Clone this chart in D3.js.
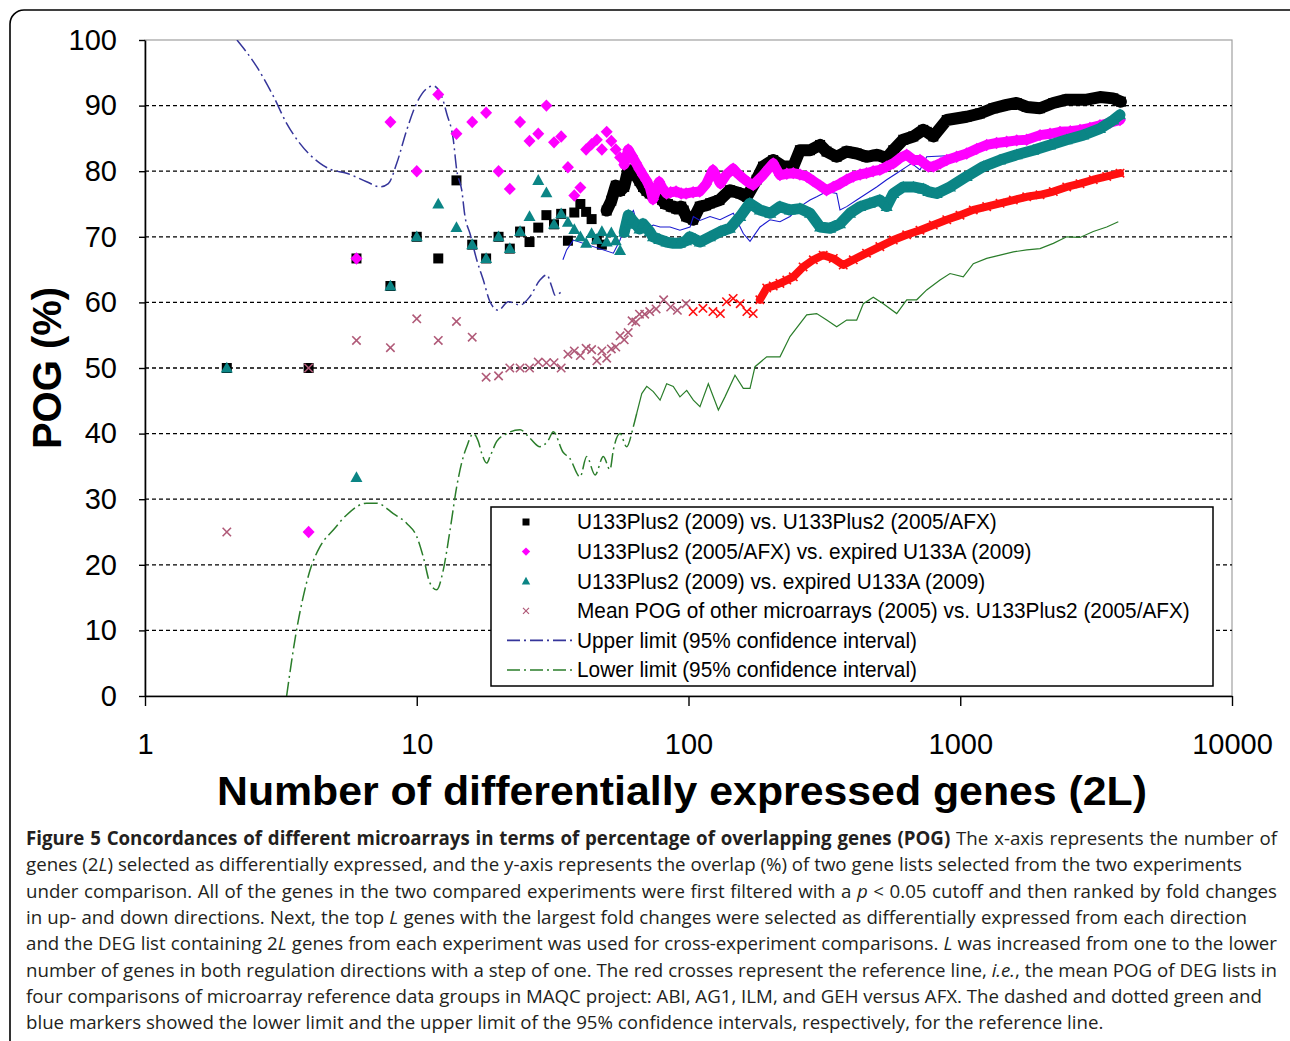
<!DOCTYPE html>
<html><head><meta charset="utf-8">
<script src="https://cdn.jsdelivr.net/npm/d3@7"></script>
<style>
body{margin:0;background:#fff;width:1290px;height:1041px;overflow:hidden;position:relative;}
svg{position:absolute;left:0;top:0;}
.cl{position:absolute;left:26px;white-space:nowrap;font-family:"Open Sans",sans-serif;color:#231f20;transform-origin:0 0;line-height:26px;}
</style></head><body>
<svg id="chart" width="1290" height="1041"></svg>
<script>
// ---------------- DATA (2L, POG %) ----------------
const yTicks = [0,10,20,30,40,50,60,70,80,90,100];
const xTicks = [1,10,100,1000,10000];
const legendLabels = [
  "U133Plus2 (2009) vs. U133Plus2 (2005/AFX)",
  "U133Plus2 (2005/AFX) vs. expired U133A (2009)",
  "U133Plus2 (2009) vs. expired U133A (2009)",
  "Mean POG of other microarrays (2005) vs. U133Plus2 (2005/AFX)",
  "Upper limit (95% confidence interval)",
  "Lower limit (95% confidence interval)"
];
const blackPts = [[2,50],[4,50],[6,66.7],[8,62.5],[10,70],[12,66.7],[14,78.6],[16,68.8],[18,66.7],[20,70],
 [22,68.2],[24,70.8],[26,69.2],[28,71.4],[30,73.3],[32,71.9],[34,73.5],[36,69.4],[38,73.7],[40,75],
 [42,73.8],[44,72.7],[46,69.6],[48,68.8],[50,74],[52,75.5],[54,77.8],[56,77],[58,77.6],[60,80.2],
 [62,79.5],[64,79.4],[66,78.5],[68,77.6],[70,77],[72,76.6],[74,76.6],[76,76.1],[78,76],[80,75.6],
 [82,75],[84,75],[86,74.6],[88,74.6],[90,74.3],[92,74.3],[94,74.6],[96,74],[98,73.1],[100,73],
 [104,72.6],[110,74.6],[116,74.8],[120,75.1],[130,75.6],[142,77.1],[150,76.8],[155,76.6],[164,76.1],[178,78.7],
 [188,80.7],[205,81.7],[223,80.7],[243,80.7],[257,83.2],[280,83.2],[305,84],[322,83],[351,82.2],[382,83],
 [416,82.7],[452,82.2],[492,82.5],[536,82],[567,83.2],[617,84.8],[672,85.3],[731,86.3],[753,86],[796,85.3],
 [892,87.8],[1056,88.3],[1182,88.8],[1323,89.6],[1482,90.1],[1614,90.4],[1756,89.8],[1966,89.6],[2200,90.4],[2465,90.9],
 [2920,90.9],[3268,91.3],[3658,91.1],[3900,90.6]];
const magentaPts = [[4,25],[6,66.7],[8,87.5],[10,80],[12,91.7],[14,85.7],[16,87.5],[18,88.9],[20,80],[22,77.3],
 [24,87.5],[26,84.6],[28,85.7],[30,90],[32,84.4],[34,85.3],[36,80.6],[38,76.3],[40,77.5],[42,83.3],
 [44,84.1],[46,84.8],[48,83.3],[50,86],[52,84.6],[54,83.3],[56,82.1],[58,81],[60,83.3],[62,82.3],
 [64,81.3],[66,80.3],[68,79.4],[70,78.6],[72,77.6],[74,75.7],[76,77],[78,78.4],[80,77.5],[83,76.6],
 [86,76.8],[90,76.9],[94,76.6],[98,76.6],[104,76.8],[110,76.9],[116,78],[123,80.2],[131,78.1],[138,79.5],
 [146,80.4],[152,79.6],[159,78.9],[166,78.3],[173,77.9],[180,78.6],[188,79.4],[196,80.3],[205,81.2],[217,79.4],
 [230,79.6],[243,79.7],[257,79.5],[272,79.2],[288,78.5],[305,77.8],[322,77.1],[341,77.6],[361,78.1],[382,78.7],
 [404,79.2],[428,79.5],[452,79.7],[478,80],[506,80.2],[536,80.7],[567,81.2],[600,82],[635,82.5],[672,81.7],
 [711,81.7],[763,80.7],[796,80.7],[845,81.2],[892,81.7],[970,82.2],[1056,82.7],[1150,83.4],[1251,84],[1360,84.3],
 [1482,84.5],[1614,84.7],[1756,84.8],[1966,85.5],[2140,85.7],[2329,86],[2540,86.1],[2759,86.3],[3000,86.6],[3268,87],
 [3560,87.4],[3871,87.8]];
const tealPts = [[2,50],[6,33.3],[8,62.5],[10,70],[12,75],[14,71.4],[16,68.8],[18,66.7],[20,70],[22,68.2],
 [24,70.8],[26,73.1],[28,78.6],[30,76.7],[32,71.9],[34,73.5],[36,72.2],[38,71.1],[40,70],[42,69],
 [44,70.5],[46,69.6],[48,70.8],[50,69.2],[52,70.6],[54,69.4],[56,67.9],[58,70.7],[60,73.3],[62,72.6],
 [64,71.9],[66,71.2],[68,72],[70,71.4],[72,70.8],[74,70],[78,69.6],[83,69.2],[88,69],[93,69],
 [98,69.4],[101,70],[106,69.6],[110,69.2],[120,70],[131,70.8],[142,71.3],[155,73.1],[168,75.1],[183,74.1],
 [200,73.6],[217,74.6],[236,74.1],[257,74.3],[280,73.6],[305,71.5],[332,71.3],[361,72],[393,73.6],[428,74.6],
 [465,75.1],[506,75.6],[536,74.6],[567,76.6],[617,77.6],[672,77.6],[731,77.3],[763,76.9],[819,76.6],[917,77.6],
 [1056,79.2],[1216,80.7],[1401,81.7],[1614,82.5],[1857,83.2],[2140,84],[2465,84.8],[2837,85.5],[3268,86.5],[3658,87.8],
 [3871,88.6]];
const meanPts = [[2,25],[4,50],[6,54.2],[8,53.1],[10,57.5],[12,54.2],[14,57.1],[16,54.7],[18,48.6],[20,48.8],
 [22,50],[24,50],[26,50],[28,50.9],[30,50.8],[32,50.8],[34,50],[36,52.1],[38,52.6],[40,51.9],
 [42,53],[44,52.8],[46,51.1],[48,52.6],[50,51.5],[52,52.9],[54,53.2],[56,54.9],[58,54.3],[60,55.4],
 [62,57.2],[64,57],[66,58.2],[69,58.2],[72,58.6],[76,59],[81,60.4],[86,59.3],[91,58.8],[98,59.8],
 [104,58.6],[113,59.1],[123,58.6],[131,58.3],[138,60.1],[146,60.6],[155,59.8],[164,58.6],[173,58.3],[183,60.4],
 [194,62.2],[205,62.5],[217,62.9],[230,63.4],[243,63.9],[264,65.4],[288,66.5],[313,67.2],[341,66.7],[371,65.7],
 [404,66.5],[452,67.5],[506,68.5],[567,69.5],[635,70.3],[711,71],[796,71.8],[892,72.6],[998,73.3],[1117,74.1],
 [1251,74.6],[1401,75.1],[1568,75.6],[1756,76.1],[1966,76.4],[2200,76.9],[2465,77.6],[2759,78.1],[3087,78.7],[3459,79.2],
 [3871,79.7]];
const upperEarly = [[2.18,100],[2.58,95.9],[2.97,91.4],[3.32,87.3],[3.72,84.2],[4.41,81.2],[4.8,80.3],[5.52,79.7],[6.54,78.4],[7.32,77.6],
 [7.86,78.1],[8.44,81.2],[9.19,86.3],[10,90.4],[10.88,92.6],[11.5,93],[12.36,91.4],[12.89,88.8],[13.63,84.8],[14.03,80.2],
 [14.64,77.1],[15.05,73.1],[15.7,70.5],[16.62,66.5],[17.58,63.4],[18.6,60.1],[19.96,58.8],[21.73,60.1],[23.99,59.6],[26.1,60.9],
 [28.4,63.4],[30.1,64.2],[31.4,62.4],[32.3,61.1],[34.2,61.7]];
const upperLate = [[34.5,66.5],[35.6,68],[37.7,69.5],[52.9,67.5],[56,69.5],[59.2,72.6],[62.7,74],[66.3,70.5],[70.2,71],[72.2,71.5],
 [74.2,71.8],[78.6,71.5],[85.5,71.5],[93,71],[101.3,71.5],[104.2,73.1],[110.2,72.5],[120,73.1],[130.6,72.6],[146.2,73.6],
 [159.1,70.5],[168.4,69.3],[183.3,71.5],[199.5,72.6],[217.1,72.3],[236.3,73.1],[257.2,74.6],[280,75.6],[296.3,76.1],[322.5,76.9],
 [351,76.6],[361,74.1],[382,74.6],[415.8,75.6],[452.5,76.6],[492.5,77.6],[536.1,78.7],[583.7,79.7],[635.4,80.7],[662.9,81.2],
 [711.1,80.2],[752.5,82.2],[1056,82.5],[1482,84.3],[2329,86],[3268,87],[3871,87.6]];
const lowerEarly = [[3.32,0],[3.61,10],[3.82,15.1],[4.05,19.2],[4.41,22.8],[4.93,25.3],[5.52,27.6],[6.54,29.4],[7.12,29.4],[8.2,27.8],
 [9.19,26.3],[10,24.3],[10.57,21.2],[11.19,17.2],[11.84,16.2],[12.52,19.2],[13.26,25.3],[14.03,31.9],[14.84,36.5],[15.27,38],
 [16.15,40],[16.85,38.8],[17.34,37],[18.09,35.5],[18.6,36.5],[19.69,38.8],[21.43,40],[23.99,40.6],[26.1,39.3],[28.4,38],
 [30.5,39],[31.8,40.3],[34.5,37.2],[36.6,36.2],[39.9,33.4],[42.2,36.5],[45.3,33.7],[48.6,36.5],[51.4,34.5],[52.9,37.5],
 [56,40],[59.2,38],[62.7,41.1],[64.5,43.1]];
const lowerLate = [[64.5,43.1],[67.3,46.1],[70.2,47.2],[74.2,46.4],[78.6,45.1],[83.1,47.6],[87.9,47.2],[93,45.6],[98.5,46.6],[104.2,45.1],
 [110.2,44.1],[118.3,47.6],[128.8,43.6],[136.2,45.6],[148.3,48.9],[159.1,46.9],[168.4,46.9],[175.7,50.2],[194,51.7],[217.1,51.7],
 [236.3,54.8],[272.2,58.1],[296.3,58.3],[322.5,57.3],[351,56.3],[382,57.3],[415.8,57.3],[439.8,59.8],[478.6,60.8],[521,59.8],
 [583.7,58.3],[635.4,60.4],[691.5,60.4],[752.5,61.9],[842.4,63.4],[917,64.4],[1026,63.9],[1117,65.9],[1251,66.7],[1401,67.2],
 [1568,67.7],[1756,68],[1966,68.2],[2200,69],[2465,70],[2759,69.9],[3087,70.8],[3459,71.5],[3816,72.3]];
const captionLines = [
 '<b>Figure 5 Concordances of different microarrays in terms of percentage of overlapping genes (POG)</b> The x-axis represents the number of',
 'genes (2<i>L</i>) selected as differentially expressed, and the y-axis represents the overlap (%) of two gene lists selected from the two experiments',
 'under comparison. All of the genes in the two compared experiments were first filtered with a <i>p</i> &lt; 0.05 cutoff and then ranked by fold changes',
 'in up- and down directions. Next, the top <i>L</i> genes with the largest fold changes were selected as differentially expressed from each direction',
 'and the DEG list containing 2<i>L</i> genes from each experiment was used for cross-experiment comparisons. <i>L</i> was increased from one to the lower',
 'number of genes in both regulation directions with a step of one. The red crosses represent the reference line, <i>i.e.</i>, the mean POG of DEG lists in',
 'four comparisons of microarray reference data groups in MAQC project: ABI, AG1, ILM, and GEH versus AFX. The dashed and dotted green and',
 'blue markers showed the lower limit and the upper limit of the 95% confidence intervals, respectively, for the reference line.'
];

// ---------------- LAYOUT ----------------
const X0=145, X1=1232, Y0=40, Y1=696;
const x = d3.scaleLog().domain([1,10000]).range([X0,X1]);
const y = d3.scaleLinear().domain([0,100]).range([Y1,Y0]);
const svg = d3.select('#chart');
const FONT = '"Liberation Sans", Arial, sans-serif';

// outer rounded frame
svg.append('rect').attr('x',10).attr('y',10).attr('width',1300).attr('height',1060)
  .attr('rx',14).attr('fill','none').attr('stroke','#000').attr('stroke-width',1.6);

// plot frame
svg.append('rect').attr('x',X0).attr('y',Y0).attr('width',X1-X0).attr('height',Y1-Y0)
  .attr('fill','#fff').attr('stroke','#a0a0a0').attr('stroke-width',1.2);

// grid
svg.append('g').selectAll('line').data(yTicks.filter(t=>t>0&&t<100)).join('line')
  .attr('x1',X0).attr('x2',X1).attr('y1',d=>y(d)).attr('y2',d=>y(d))
  .attr('stroke','#000').attr('stroke-width',1.3).attr('stroke-dasharray','4,3');

const defs = svg.append('defs');
defs.append('clipPath').attr('id','clip').append('rect').attr('x',X0).attr('y',Y0).attr('width',X1-X0).attr('height',Y1-Y0);
const plot = svg.append('g').attr('clip-path','url(#clip)');

const SQ = 'M-5,-5H5V5H-5Z';
const DI = 'M0,-6.2L6,0L0,6.2L-6,0Z';
const TR = 'M0,-6.3L6,4.5L-6,4.5Z';
const CR = 'M-4.2,-4.2L4.2,4.2M-4.2,4.2L4.2,-4.2';

function band(pts, minX, color, w){
  plot.append('path').datum(pts.filter(p=>p[0]>=minX))
    .attr('d', d3.line().x(p=>x(p[0])).y(p=>y(p[1])))
    .attr('fill','none').attr('stroke',color).attr('stroke-width',w)
    .attr('stroke-linejoin','round').attr('stroke-linecap','round');
}
function markers(pts, path, fill){
  plot.append('g').selectAll('path').data(pts).join('path')
    .attr('transform',p=>`translate(${x(p[0])},${y(p[1])})`).attr('d',path).attr('fill',fill);
}
function curve(pts, color, w, dash, smooth){
  plot.append('path').datum(pts)
    .attr('d', d3.line().curve(smooth?d3.curveMonotoneX:d3.curveLinear).x(p=>x(p[0])).y(p=>y(p[1])))
    .attr('fill','none').attr('stroke',color).attr('stroke-width',w)
    .attr('stroke-dasharray',dash||null);
}

const C_BLACK='#000', C_MAG='#ff00ff', C_TEAL='#0b8585', C_RED='#ff1010', C_MAUVE='#b05a78',
      C_UP='#35359a', C_UP2='#1a1ad0', C_LOW='#2a7d2a';

band(blackPts, 50, C_BLACK, 12); markers(blackPts, SQ, C_BLACK);
curve(upperEarly, C_UP, 1.5, '14,4,2,4', true);
curve(upperLate, C_UP2, 1.1, null, false);
band(magentaPts, 58, C_MAG, 10); markers(magentaPts, DI, C_MAG);
band(tealPts, 58, C_TEAL, 11); markers(tealPts, TR, C_TEAL);
band(meanPts, 180, C_RED, 8);
plot.append('g').selectAll('path').data(meanPts).join('path')
  .attr('transform',p=>`translate(${x(p[0])},${y(p[1])})`).attr('d',CR)
  .attr('fill','none').attr('stroke',p=>p[0]<100?C_MAUVE:C_RED).attr('stroke-width',1.6);
curve(lowerEarly, C_LOW, 1.5, '14,4,2,4', true);
curve(lowerLate, C_LOW, 1.2, null, false);

// axes
const yAxis = svg.append('g').attr('transform',`translate(${X0},0)`)
  .call(d3.axisLeft(y).tickValues(yTicks).tickSize(6).tickSizeOuter(0).tickPadding(22));
const xAxis = svg.append('g').attr('transform',`translate(0,${Y1})`)
  .call(d3.axisBottom(x).tickValues(xTicks).tickFormat(d3.format('d')).tickSize(10).tickSizeOuter(0).tickPadding(27));
[yAxis,xAxis].forEach(a=>{
  a.select('.domain').attr('stroke','#000').attr('stroke-width',1.6);
  a.selectAll('.tick line').attr('stroke','#000').attr('stroke-width',1.4);
  a.selectAll('text').attr('font-family',FONT).attr('font-size',29).attr('fill','#000');
});

// axis titles
svg.append('text').attr('x',682).attr('y',805).attr('text-anchor','middle')
  .attr('font-family',FONT).attr('font-weight','bold').attr('font-size',40)
  .attr('textLength',930).attr('lengthAdjust','spacingAndGlyphs')
  .text('Number of differentially expressed genes (2L)');
svg.append('text').attr('transform','translate(61,368) rotate(-90)').attr('text-anchor','middle')
  .attr('font-family',FONT).attr('font-weight','bold').attr('font-size',40)
  .text('POG (%)');

// legend
const lg = svg.append('g');
lg.append('rect').attr('x',491).attr('y',507).attr('width',722).attr('height',179)
  .attr('fill','#fff').attr('stroke','#000').attr('stroke-width',1.5);
const rowY = i => 522 + i*29.6;
const legSyms = [
  {p:'M-3.5,-3.5H3.5V3.5H-3.5Z', f:C_BLACK},
  {p:'M0,-4.2L4.2,0L0,4.2L-4.2,0Z', f:C_MAG},
  {p:'M0,-4.5L4.2,3.2L-4.2,3.2Z', f:C_TEAL},
  {p:'M-3,-3L3,3M-3,3L3,-3', s:C_MAUVE}
];
legSyms.forEach((s,i)=>{
  lg.append('path').attr('transform',`translate(526,${rowY(i)})`).attr('d',s.p)
    .attr('fill',s.f||'none').attr('stroke',s.s||null).attr('stroke-width',1.2);
});
[C_UP, C_LOW].forEach((c,j)=>{
  lg.append('line').attr('x1',507).attr('x2',572).attr('y1',rowY(4+j)).attr('y2',rowY(4+j))
    .attr('stroke',c).attr('stroke-width',1.6).attr('stroke-dasharray','13,4,2,4');
});
const lt = lg.append('g');
const texts = lt.selectAll('text').data(legendLabels).join('text')
  .attr('x',0).attr('y',(d,i)=>rowY(i)+7.5)
  .attr('font-family',FONT).attr('font-size',22).attr('fill','#000').text(d=>d);
let maxW = 0; texts.each(function(){maxW=Math.max(maxW,this.getComputedTextLength());});
lt.attr('transform',`translate(577,0) scale(${613/maxW},1)`);

// caption (justified lines)
const capEnds = [1277,1242,1277,1247,1277,1277,1262,null];
const baseFs = 19;
const divs = captionLines.map((h,i)=>{
  const d=document.createElement('div'); d.className='cl'; d.innerHTML=h;
  d.style.top=(825+i*26.3)+'px'; d.style.fontSize=baseFs+'px';
  document.body.appendChild(d); return d;
});
let s=1;
divs.forEach((d,i)=>{ if(capEnds[i]){ const w=d.getBoundingClientRect().width; s=Math.min(s,(capEnds[i]-26)/w);} });
divs.forEach((d,i)=>{
  d.style.transform=`scaleX(${s})`;
  if(capEnds[i]){ d.style.width=((capEnds[i]-26)/s)+'px'; d.style.textAlign='justify'; d.style.textAlignLast='justify'; d.style.whiteSpace='normal'; }
});
</script>
</body></html>
